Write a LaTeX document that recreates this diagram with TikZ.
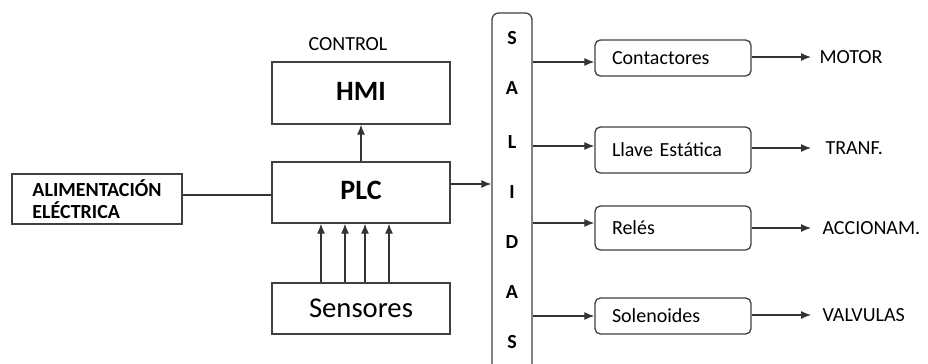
\documentclass[tikz,border=0pt]{standalone}
\usepackage{fontspec}
\setmainfont{Carlito}
\usetikzlibrary{arrows.meta}

\tikzset{every picture/.style={line width=0.75pt}}
\tikzset{
  box/.style={draw=black!75, line width=1pt, rectangle, inner sep=0pt},
  outbox/.style={box, rounded corners=4pt, text width=91.5pt, align=left, inner xsep=12.75pt, minimum width=117pt},
  arr/.style={draw=black!80, line width=0.9pt, -{Latex[length=7.5pt,width=6pt]}},
  txt/.style={inner sep=0pt, font=\fontsize{15}{17}\selectfont}
}

\begin{document}
\begin{tikzpicture}[x=0.75pt,y=0.75pt,yscale=-1,xscale=1]
\useasboundingbox (0,0) rectangle (928,364);
\clip (0,0) rectangle (928,364);

%Shape: Rectangle
\draw (97,199) node (alim) [box, minimum width=127.5pt, minimum height=37.5pt, align=left, font=\fontsize{15}{16.5}\selectfont\bfseries] {ALIMENTACIÓN\\ELÉCTRICA};
%Shape: Rectangle
\draw (361,93) node (hmi) [box, minimum width=133.5pt, minimum height=46.5pt, font=\fontsize{21}{24}\selectfont\bfseries] {\raisebox{3pt}{HMI}};
%Shape: Rectangle
\draw (361,192.5) node (plc) [box, minimum width=133.5pt, minimum height=45.75pt, font=\fontsize{21}{24}\selectfont\bfseries] {\raisebox{3pt}{PLC}};
%Shape: Rectangle
\draw (361,308.5) node (sensores) [box, minimum width=133.5pt, minimum height=38.25pt, font=\fontsize{21.5}{24}\selectfont] {Sensores};
%Shape: Rounded Rect
\draw (512,196.5) node (salidas) [box, rounded corners=5pt, minimum width=30pt, minimum height=275.25pt] {};

% Text Node
\draw (348,44) node (control) [txt] {CONTROL};

% Text Node
\draw (512,38) node (s1) [txt, font=\fontsize{15}{17}\selectfont\bfseries] {S};
\draw (512,88) node (s2) [txt, font=\fontsize{15}{17}\selectfont\bfseries] {A};
\draw (512,142) node (s3) [txt, font=\fontsize{15}{17}\selectfont\bfseries] {L};
\draw (512,192) node (s4) [txt, font=\fontsize{15}{17}\selectfont\bfseries] {I};
\draw (512,242) node (s5) [txt, font=\fontsize{15}{17}\selectfont\bfseries] {D};
\draw (512,292) node (s6) [txt, font=\fontsize{15}{17}\selectfont\bfseries] {A};
\draw (512,342) node (s7) [txt, font=\fontsize{15}{17}\selectfont\bfseries] {S};

%Shape: Rounded Rect
\draw (673,58) node (contact) [outbox, minimum height=27pt, font=\fontsize{15}{17}\selectfont] {Contactores};
\draw (673,150) node (llave) [outbox, minimum height=34.5pt, font=\fontsize{15}{17}\selectfont] {Llave Estática};
\draw (673,228) node (reles) [outbox, minimum height=33pt, font=\fontsize{15}{17}\selectfont] {Relés};
\draw (673,316) node (solen) [outbox, minimum height=27pt, font=\fontsize{15}{17}\selectfont] {Solenoides};

% Text Node
\draw (819,57) node (motor) [txt, anchor=west] {MOTOR};
\draw (825,148) node (tranf) [txt, anchor=west] {TRANF.};
\draw (822,228) node (accion) [txt, anchor=west] {ACCIONAM.};
\draw (822,315) node (valv) [txt, anchor=west] {VALVULAS};

% Connectors
\draw [draw=black!80, line width=0.9pt] (alim.east |- 0,195) -- (plc.west |- 0,195);
\draw [arr] (plc.north) -- (hmi.south);
\draw [arr] (321,0 |- sensores.north) -- (321,0 |- plc.south);
\draw [arr] (345,0 |- sensores.north) -- (345,0 |- plc.south);
\draw [arr] (365,0 |- sensores.north) -- (365,0 |- plc.south);
\draw [arr] (389,0 |- sensores.north) -- (389,0 |- plc.south);
\draw [arr] (plc.east |- 0,184) -- (salidas.west |- 0,184);

\draw [arr] (salidas.east |- 0,62) -- (contact.west |- 0,62);
\draw [arr] (salidas.east |- 0,146) -- (llave.west |- 0,146);
\draw [arr] (salidas.east |- 0,223) -- (reles.west |- 0,223);
\draw [arr] (salidas.east |- 0,316) -- (solen.west |- 0,316);

\draw [arr] (contact.east |- motor.west) -- ([xshift=-6pt]motor.west);
\draw [arr] (llave.east |- tranf.west) -- ([xshift=-10.5pt]tranf.west);
\draw [arr] (reles.east |- accion.west) -- ([xshift=-8.25pt]accion.west);
\draw [arr] (solen.east |- valv.west) -- ([xshift=-8.25pt]valv.west);
\end{tikzpicture}
\end{document}
